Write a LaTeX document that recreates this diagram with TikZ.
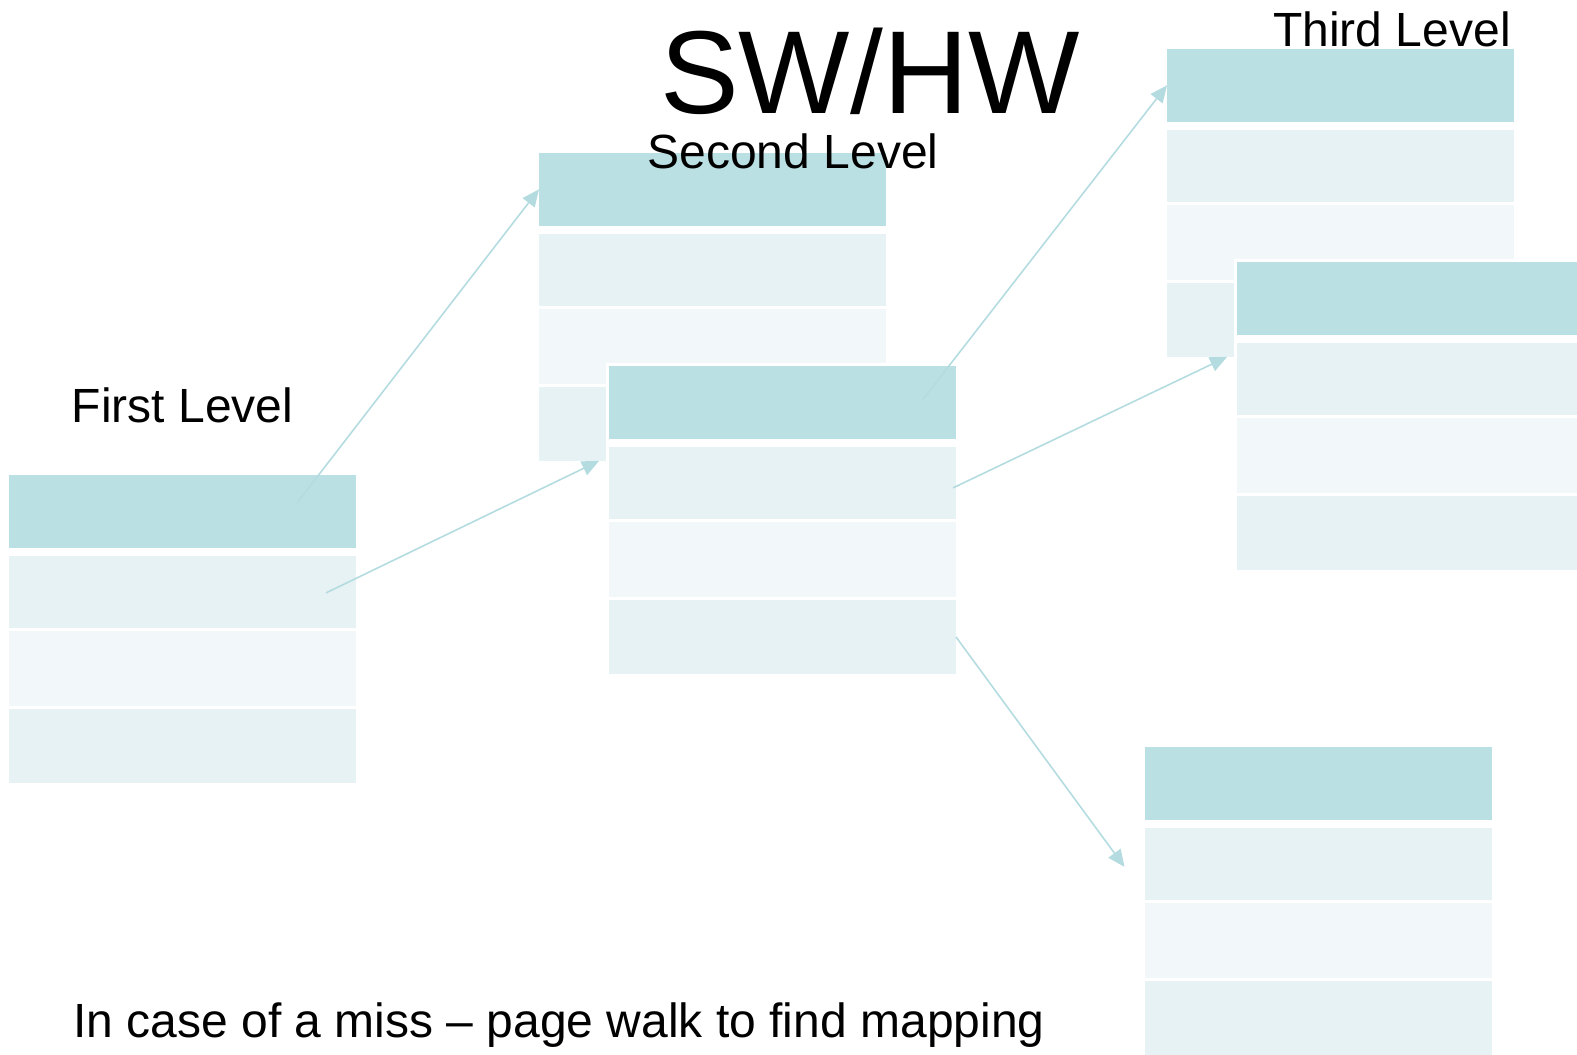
\documentclass[tikz,border=0pt]{standalone}
\usepackage{fontspec}
\setmainfont{Liberation Sans}
\usepackage{tikz}
\usetikzlibrary{positioning,arrows.meta,calc}
\definecolor{ptHead}{RGB}{186,224,227}
\definecolor{ptBand}{RGB}{231,242,244}
\definecolor{ptPale}{RGB}{242,248,250}
\definecolor{ptLink}{RGB}{180,220,224}

\begin{document}
\begin{tikzpicture}[x=0.5pt,y=-0.5pt,
  hdr/.style={rectangle,fill=ptHead,inner sep=0pt,outer sep=0pt,minimum width=173.5pt,minimum height=36.3pt},
  band/.style={hdr,fill=ptBand,minimum height=36pt},
  pale/.style={hdr,fill=ptPale,minimum height=37.35pt},
  link/.style={ptLink,line width=0.8pt,-{Triangle[length=8.5pt,width=7.5pt]}},
  lbl/.style={anchor=base,inner sep=0pt,font=\fontsize{24}{28}\selectfont}]
  \useasboundingbox (0,0) rectangle (1577,1054);
  \clip (0,0) rectangle (1577,1054);
  % page tables: header plus three entries, white rim so a front table covers the one behind
  \foreach \tb/\px/\py in {first/9/475,secA/539/153,secB/609/366,thirdA/1167/49,thirdB/1237/262,thirdC/1144.5/747}{
    \fill[white] (\px-3,\py-3) rectangle ++(353,314);
    \node[hdr,anchor=north west] (\tb-h) at (\px,\py) {};
    \node[band,below=4.15pt of \tb-h] (\tb-1) {};
    \node[pale,below=1.5pt of \tb-1] (\tb-2) {};
    \node[band,minimum height=37.35pt,below=1.5pt of \tb-2] (\tb-3) {};
  }
  % titles
  \node[lbl,font=\fontsize{59}{66}\selectfont] (title) at (870,113) {SW/HW};
  \node[lbl] (lvl1) at (182.5,422) {First Level};
  \node[lbl] (lvl2) at (793,168) {Second Level};
  \node[lbl] (lvl3) at (1392,47) {Third Level};
  \node[lbl] (note) at (559,1037) {In case of a miss -- page walk to find mapping};
  % walk pointers
  \coordinate (p1) at ($(first-h.north east)+(-59,28)$);
  \coordinate (p2) at ($(first-1.east)+(-30,1)$);
  \coordinate (q2) at ($(secB-1.north west)+(-10,14)$);
  \coordinate (p3) at ($(secB-h.east)+(-33,-3)$);
  \coordinate (p4) at ($(secB-1.east)+(-3,5)$);
  \coordinate (q4) at ($(thirdB-1.north west)+(-10,14)$);
  \coordinate (q5) at ($(thirdC-1.west)+(-20,3)$);
  \draw[link] (p1) -- (secA-h.west);
  \draw[link] (p2) -- (q2);
  \draw[link] (p3) -- (thirdA-h.west);
  \draw[link] (p4) -- (q4);
  \draw[link] (secB-3.east) -- (q5);
\end{tikzpicture}
\end{document}
